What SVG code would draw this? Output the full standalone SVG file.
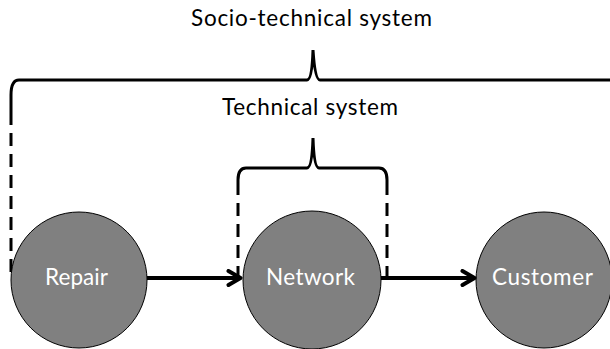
<svg xmlns="http://www.w3.org/2000/svg" width="610" height="349" viewBox="0 0 610 349">
<defs>
<marker id="arr" viewBox="0 0 18 18" markerWidth="18" markerHeight="18" refX="15.5" refY="9" orient="auto" markerUnits="userSpaceOnUse">
<path d="M3,2 L15,9 L3,16" fill="none" stroke="#000" stroke-width="4" stroke-linecap="round" stroke-linejoin="round"/>
</marker>
<style>
.node{fill:#808080;stroke:#000;stroke-width:1}
.lbl{font-family:Lato,"Open Sans",sans-serif;font-size:22.5px;fill:#fff;text-anchor:middle}
.ttl{font-family:Lato,"Open Sans",sans-serif;font-size:22.5px;fill:#000;text-anchor:middle}
.br{fill:none;stroke:#000;stroke-width:3}
.dash{fill:none;stroke:#000;stroke-width:3;stroke-dasharray:13 8}
.edge{stroke:#000;stroke-width:4;fill:none}
</style>
</defs>
<rect width="610" height="349" fill="#fff"/>
<g id="labels">
<text class="ttl" x="311.5" y="25.5" textLength="241" lengthAdjust="spacing">Socio-technical system</text>
<text class="ttl" x="310" y="115" textLength="176" lengthAdjust="spacing">Technical system</text>
</g>
<g id="brackets">
<path class="br" d="M11,125 L11,95 Q11,80 19,80 L307,80 Q312,80 313,50 Q315,80 320,80 L612,80"/>
<path class="dash" d="M11,133 L11,278"/>
<path class="br" d="M238,195 L238,180 Q238,168 246,168 L307,168 Q312,168 313,138 Q314,168 319,168 L379,168 Q387,168 387,180 L387,195"/>
<path class="dash" d="M238,203 L238,278"/>
<path class="dash" d="M387,203 L387,282"/>
</g>
<g id="nodes">
<g id="repair"><circle class="node" cx="79" cy="280" r="68"/><text class="lbl" x="76.5" y="285" textLength="63" lengthAdjust="spacing">Repair</text></g>
<g id="network"><circle class="node" cx="312" cy="280" r="69"/><text class="lbl" x="310.5" y="285" textLength="89" lengthAdjust="spacing">Network</text></g>
<g id="customer"><circle class="node" cx="544" cy="280" r="68"/><text class="lbl" x="542.5" y="285" textLength="101" lengthAdjust="spacing">Customer</text></g>
</g>
<g id="connectors">
<line class="edge" x1="147" y1="278" x2="241" y2="278" marker-end="url(#arr)"/>
<line class="edge" x1="381" y1="278" x2="475" y2="278" marker-end="url(#arr)"/>
</g>
</svg>
